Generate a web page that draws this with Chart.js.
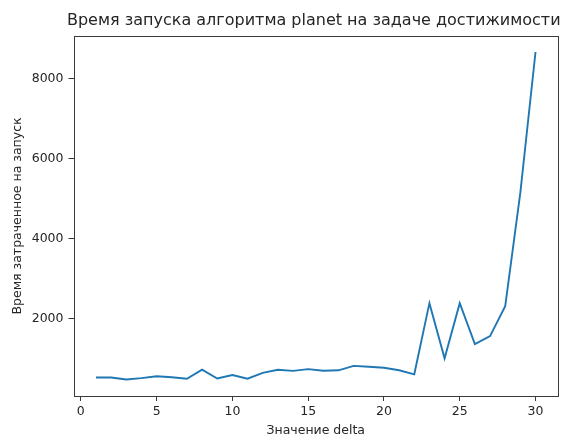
<!DOCTYPE html>
<html>
<head>
<meta charset="utf-8">
<script src="https://cdn.jsdelivr.net/npm/chart.js@4/dist/chart.umd.min.js"></script>
<style>
  html, body { margin: 0; padding: 0; background: #fff; }
  #wrap { width: 566px; height: 438px; }
</style>
</head>
<body>
<div id="wrap"><canvas id="c" width="566" height="438"></canvas></div>
<script>
// Значения delta (ось X)
const deltas = [1, 2, 3, 4, 5, 6, 7, 8, 9, 10, 11, 12, 13, 14, 15,
                16, 17, 18, 19, 20, 21, 22, 23, 24, 25, 26, 27, 28, 29, 30];
// Время запуска для каждого delta
const runTimes = [520, 520, 470, 505, 550, 525, 490, 715, 495, 580,
                  490, 635, 715, 685, 730, 690, 700, 810, 790, 765,
                  700, 600, 2380, 1000, 2380, 1355, 1555, 2305, 5150, 8665];
// Подписи делений
const xTickValues = [0, 5, 10, 15, 20, 25, 30];
const yTickValues = [2000, 4000, 6000, 8000];

const titleText = 'Время запуска алгоритма planet на задаче достижимости';
const xLabel = 'Значение delta';
const yLabel = 'Время затраченное на запуск';

const FONT = 'DejaVu Sans';
const TEXT = '#262626';
const AXIS = '#3a3a3a';

// Рамка вокруг области графика и заголовок по её центру
const framePlugin = {
  id: 'frameAndTitle',
  afterDraw(chart) {
    const { ctx, chartArea: a } = chart;
    ctx.save();
    ctx.strokeStyle = AXIS;
    ctx.lineWidth = 1;
    ctx.strokeRect(Math.round(a.left) + 0.5, Math.round(a.top) + 0.5,
                   Math.round(a.right - a.left), Math.round(a.bottom - a.top));
    ctx.fillStyle = TEXT;
    ctx.font = '16px "' + FONT + '"';
    ctx.textAlign = 'center';
    ctx.textBaseline = 'middle';
    ctx.fillText(titleText, (a.left + a.right) / 2 - 2, 21);
    ctx.restore();
  }
};

const xMin = -0.45, xMax = 31.45;

new Chart(document.getElementById('c'), {
  type: 'line',
  data: {
    datasets: [{
      data: deltas.map((d, i) => ({ x: d, y: runTimes[i] })),
      borderColor: '#1f77b4',
      borderWidth: 1.9,
      pointRadius: 0,
      tension: 0,
      fill: false
    }]
  },
  options: {
    responsive: false,
    animation: false,
    events: [],
    layout: { padding: { top: 36, right: 8.5, bottom: 0, left: 0 } },
    plugins: { legend: { display: false }, tooltip: { enabled: false }, title: { display: false } },
    scales: {
      x: {
        type: 'linear',
        min: xMin,
        max: xMax,
        afterFit(scale) { scale.height = 42; },
        afterBuildTicks(scale) { scale.ticks = xTickValues.map(v => ({ value: v })); },
        grid: { drawOnChartArea: false, drawTicks: true, tickLength: 5, color: AXIS, tickColor: AXIS },
        border: { display: true, color: AXIS, width: 1 },
        ticks: { color: TEXT, font: { family: FONT, size: 12.5 }, padding: 3, maxRotation: 0, autoSkip: false,
                 callback: v => String(v) },
        title: { display: true, text: xLabel, color: TEXT, font: { family: FONT, size: 12.5 }, padding: { top: 0, bottom: 0 } }
      },
      y: {
        type: 'linear',
        min: 57,
        max: 9065,
        afterFit(scale) { scale.width = 74; },
        afterBuildTicks(scale) { scale.ticks = yTickValues.map(v => ({ value: v })); },
        grid: { drawOnChartArea: false, drawTicks: true, tickLength: 5.5, color: AXIS, tickColor: AXIS },
        border: { display: true, color: AXIS, width: 1 },
        ticks: { color: TEXT, font: { family: FONT, size: 12.5 }, padding: 5, autoSkip: false,
                 callback: v => String(v) },
        title: { display: true, text: yLabel, color: TEXT, font: { family: FONT, size: 12.5 }, padding: { top: 10, bottom: 0 } }
      }
    }
  },
  plugins: [framePlugin]
});
</script>
</body>
</html>
